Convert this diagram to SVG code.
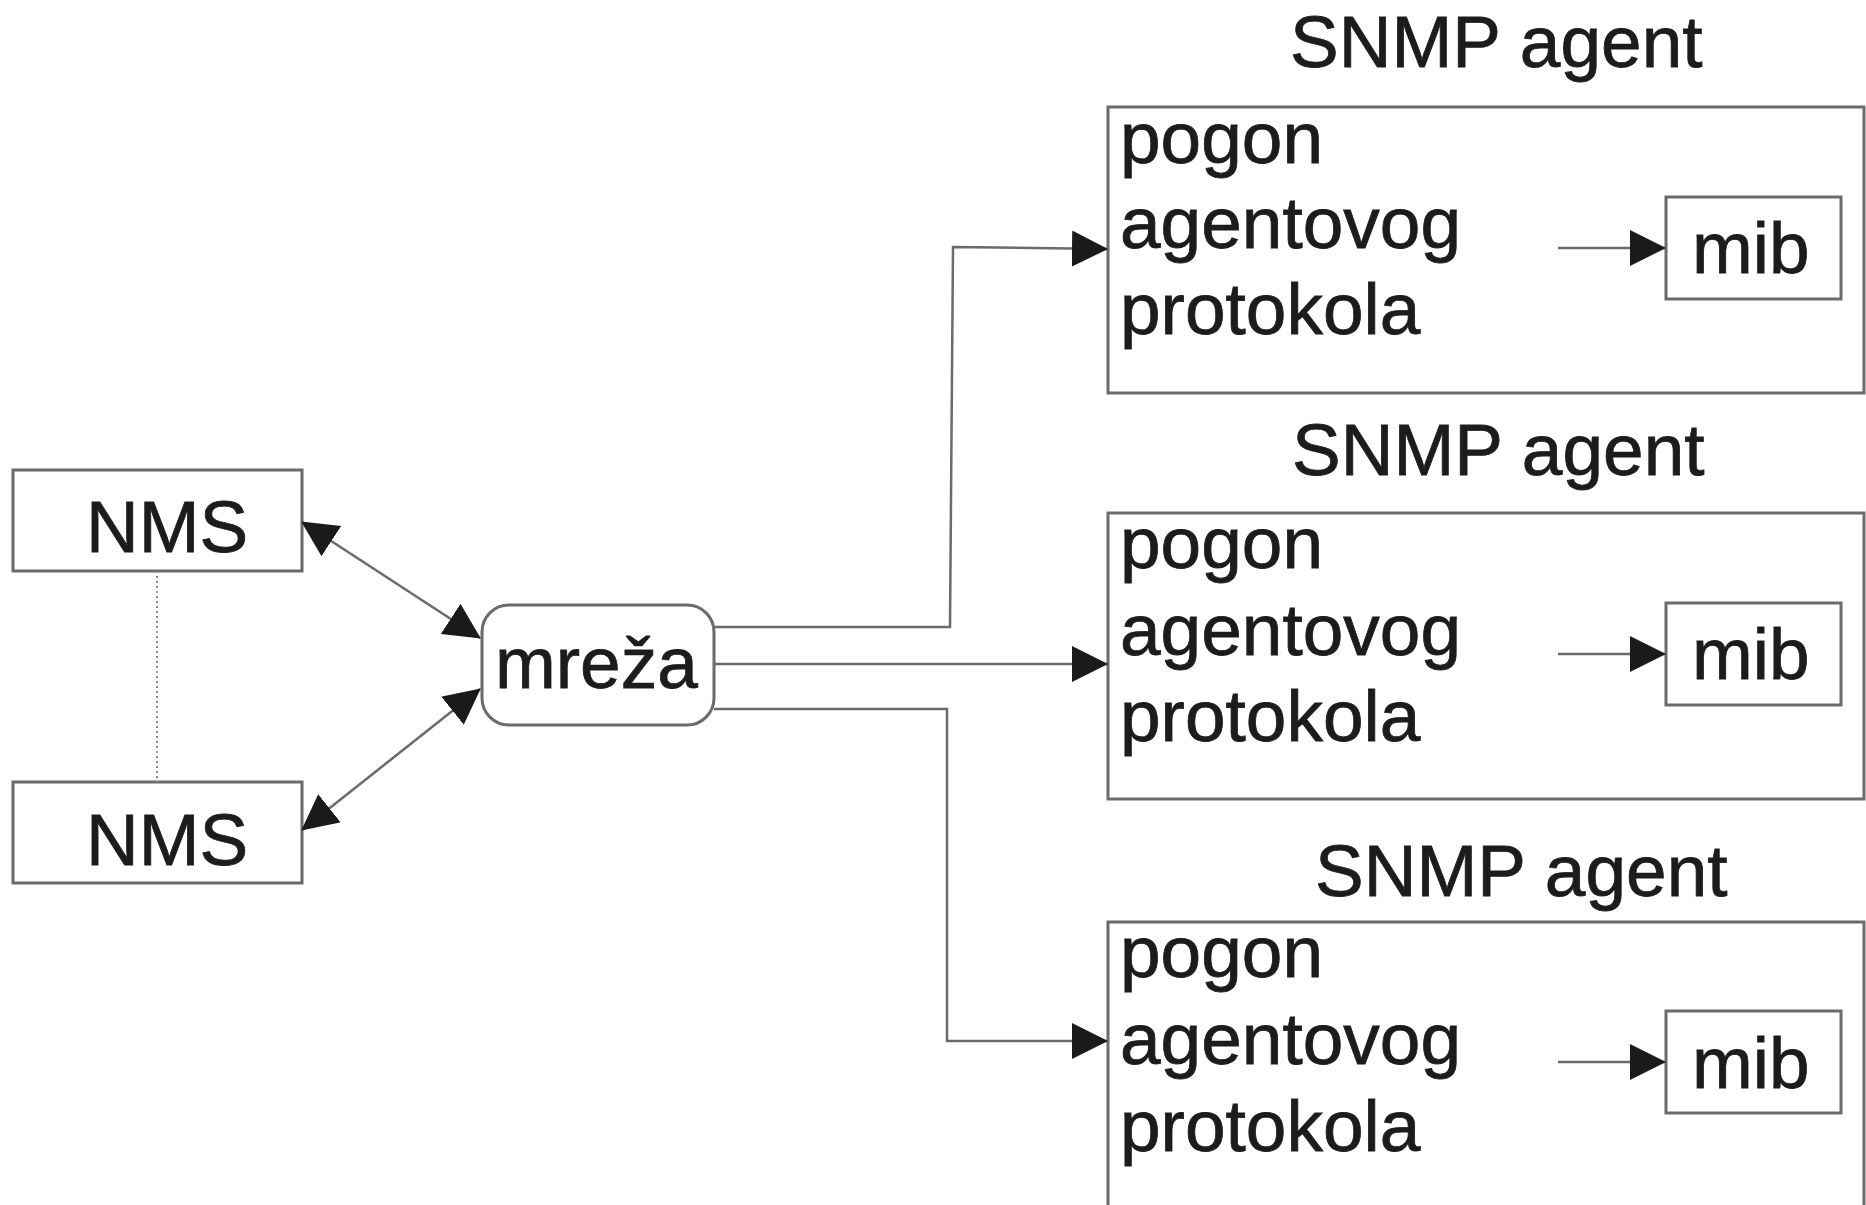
<svg xmlns="http://www.w3.org/2000/svg" width="1866" height="1205" viewBox="0 0 1866 1205">
  <style>
    .box { fill: #ffffff; stroke: #6b6b6b; stroke-width: 3; }
    .frame { fill: none; stroke: #6b6b6b; stroke-width: 3; }
    .wire { fill: none; stroke: #6b6b6b; stroke-width: 2.5; }
    .dots { fill: none; stroke: #8a8a8a; stroke-width: 2; stroke-dasharray: 2 3; }
    .lbl { font-family: "Liberation Sans", Arial, sans-serif; font-size: 73px; fill: #1c1c1c; stroke: #1c1c1c; stroke-width: 0.8; }
  </style>
  <defs>
    <marker id="tip" viewBox="0 0 36 36" refX="35" refY="18" markerWidth="36" markerHeight="36"
            markerUnits="userSpaceOnUse" orient="auto-start-reverse">
      <path d="M0,0 L36,18 L0,36 z" fill="#1a1a1a"/>
    </marker>
    <clipPath id="topCut">
      <rect x="0" y="15" width="1866" height="1190"/>
    </clipPath>
  </defs>
  <rect width="1866" height="1205" fill="#ffffff"/>

  <!-- managers -->
  <g id="nms-1">
    <rect class="box" x="13" y="470" width="289" height="101"/>
    <text class="lbl" x="86" y="552">NMS</text>
  </g>
  <g id="nms-2">
    <rect class="box" x="13" y="782" width="289" height="101"/>
    <text class="lbl" x="86" y="865">NMS</text>
  </g>

  <!-- network -->
  <g id="mreza">
    <rect class="box" x="482" y="605" width="232" height="120" rx="27" ry="27"/>
    <text class="lbl" x="495" y="688">mreža</text>
  </g>

  <!-- agent 1 -->
  <g id="agent-1">
    <text class="lbl" x="1290" y="67" clip-path="url(#topCut)">SNMP agent</text>
    <rect class="frame" x="1108" y="107" width="756" height="286"/>
    <text class="lbl" x="1120" y="163">pogon</text>
    <text class="lbl" x="1120" y="248">agentovog</text>
    <text class="lbl" x="1120" y="334">protokola</text>
  </g>
  <g id="mib-1">
    <rect class="box" x="1666" y="197" width="175" height="102"/>
    <text class="lbl" x="1692" y="273">mib</text>
  </g>

  <!-- agent 2 -->
  <g id="agent-2">
    <text class="lbl" x="1292" y="475">SNMP agent</text>
    <rect class="frame" x="1108" y="513" width="756" height="286"/>
    <text class="lbl" x="1120" y="568">pogon</text>
    <text class="lbl" x="1120" y="655">agentovog</text>
    <text class="lbl" x="1120" y="741">protokola</text>
  </g>
  <g id="mib-2">
    <rect class="box" x="1666" y="603" width="175" height="102"/>
    <text class="lbl" x="1692" y="679">mib</text>
  </g>

  <!-- agent 3 -->
  <g id="agent-3">
    <text class="lbl" x="1315" y="896">SNMP agent</text>
    <path class="frame" d="M1864,922 L1108,922 L1108,1210 L1864,1210 Z"/>
    <text class="lbl" x="1120" y="977">pogon</text>
    <text class="lbl" x="1120" y="1064">agentovog</text>
    <text class="lbl" x="1120" y="1151">protokola</text>
  </g>
  <g id="mib-3">
    <rect class="box" x="1666" y="1011" width="175" height="102"/>
    <text class="lbl" x="1692" y="1088">mib</text>
  </g>

  <!-- connectors -->
  <g id="connectors">
    <path class="dots" d="M157,571 L157,782"/>
    <path class="wire" d="M302,522 L480,638" marker-start="url(#tip)" marker-end="url(#tip)"/>
    <path class="wire" d="M302,830 L480,689" marker-start="url(#tip)" marker-end="url(#tip)"/>
    <path class="wire" d="M714,627 L950,627 L953,247 L1107,249" marker-end="url(#tip)"/>
    <path class="wire" d="M714,664 L1107,664" marker-end="url(#tip)"/>
    <path class="wire" d="M714,709 L947,709 L947,1041 L1107,1041" marker-end="url(#tip)"/>
    <path class="wire" d="M1558,248 L1665,248" marker-end="url(#tip)"/>
    <path class="wire" d="M1558,654 L1665,654" marker-end="url(#tip)"/>
    <path class="wire" d="M1558,1062 L1665,1062" marker-end="url(#tip)"/>
  </g>
</svg>
